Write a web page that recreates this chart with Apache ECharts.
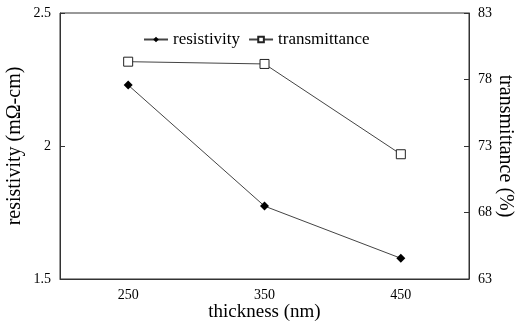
<!DOCTYPE html>
<html>
<head>
<meta charset="utf-8">
<script src="https://cdn.jsdelivr.net/npm/echarts@6/dist/echarts.min.js"></script>
<style>
  html, body { margin: 0; padding: 0; background: #fff; }
  #chart { width: 518px; height: 331px; }
</style>
</head>
<body>
<div id="chart"></div>
<script>
const thickness = ["250", "350", "450"];
const resistivity = [2.229, 1.774, 1.578];
const transmittance = [79.34, 79.17, 72.38];

const serif = "Liberation Serif";
const chart = echarts.init(document.getElementById("chart"), null, { renderer: "canvas" });

chart.setOption({
  animation: false,
  backgroundColor: "#fff",
  textStyle: { fontFamily: serif, color: "#000" },
  grid: {
    left: 60, right: 49, top: 13, bottom: 52,
    outerBoundsMode: "none",
    containLabel: false,
    show: true, borderColor: "#333", borderWidth: 1
  },
  legend: {
    top: 26, left: 138,
    itemWidth: 24, itemHeight: 7, itemGap: 8,
    textStyle: { fontFamily: serif, fontSize: 17, color: "#000" },
    data: ["resistivity", "transmittance"]
  },
  xAxis: {
    type: "category",
    data: thickness,
    name: "thickness (nm)",
    nameLocation: "middle",
    nameGap: 24,
    nameMoveOverlap: false,
    nameTextStyle: { fontFamily: serif, fontSize: 19, color: "#000" },
    axisLine: { lineStyle: { color: "#333", width: 1 } },
    axisTick: { inside: true, length: 5, lineStyle: { color: "#333" } },
    axisLabel: { fontFamily: serif, fontSize: 14, color: "#000", margin: 9 }
  },
  yAxis: [
    {
      type: "value",
      min: 1.5, max: 2.5, interval: 0.5,
      name: "resistivity (m\u03A9-cm)",
      nameLocation: "middle",
      nameGap: 35,
      nameMoveOverlap: false,
      nameTextStyle: { fontFamily: serif, fontSize: 20, color: "#000" },
      axisLine: { show: true, lineStyle: { color: "#333" } },
      axisTick: { show: true, inside: true, length: 5, lineStyle: { color: "#333" } },
      axisLabel: { fontFamily: serif, fontSize: 14, color: "#000", margin: 9, formatter: v => String(v) },
      splitLine: { show: false }
    },
    {
      type: "value",
      min: 63, max: 83, interval: 5,
      name: "transmittance (%)",
      nameLocation: "middle",
      nameGap: 26,
      nameMoveOverlap: false,
      nameRotate: -90,
      nameTextStyle: { fontFamily: serif, fontSize: 20, color: "#000" },
      axisLine: { show: true, lineStyle: { color: "#333" } },
      axisTick: { show: true, inside: true, length: 5, lineStyle: { color: "#333" } },
      axisLabel: { fontFamily: serif, fontSize: 14, color: "#000", margin: 9 },
      splitLine: { show: false }
    }
  ],
  series: [
    {
      name: "resistivity",
      type: "line",
      yAxisIndex: 0,
      data: resistivity,
      symbol: "diamond",
      symbolSize: 9,
      itemStyle: { color: "#000" },
      lineStyle: { color: "#444", width: 1 }
    },
    {
      name: "transmittance",
      type: "line",
      yAxisIndex: 1,
      data: transmittance,
      symbol: "rect",
      symbolSize: 9,
      itemStyle: { color: "#fff", borderColor: "#222", borderWidth: 1 },
      lineStyle: { color: "#444", width: 1 }
    }
  ]
});
</script>
</body>
</html>
